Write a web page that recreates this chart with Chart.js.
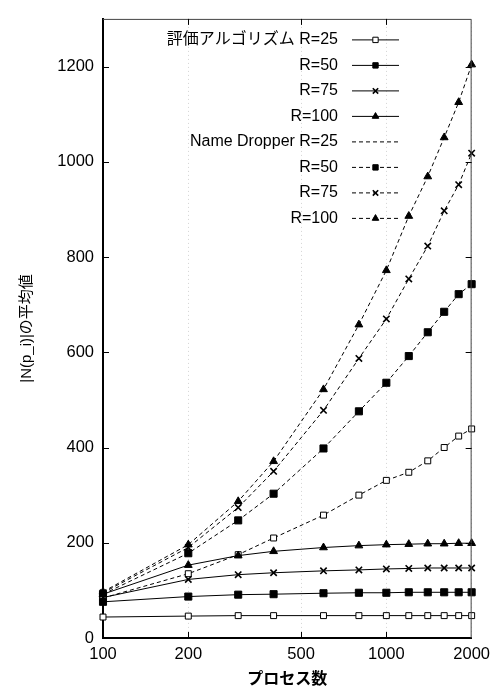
<!DOCTYPE html>
<html>
<head>
<meta charset="utf-8">
<script src="https://cdn.jsdelivr.net/npm/chart.js@4.4.0/dist/chart.umd.min.js"></script>
<style>
    html, body { margin: 0; padding: 0; background: #fff; }
    canvas { display: block; }
</style>
</head>
<body>
<canvas id="chart" width="497" height="691"></canvas>
<script>
// プロセス数 (x) と各系列の |N(p_i)| 平均値
const processes = [100, 200, 300, 400, 600, 800, 1000, 1200, 1400, 1600, 1800, 2000];
const algR25  = [44, 46, 47, 47, 47, 47, 47, 47, 47, 47, 47, 47];
const algR50  = [76, 87, 91, 92, 94, 95, 95, 96, 96, 96, 96, 96];
const algR75  = [85, 123, 133, 137, 141, 143, 145, 146, 147, 147, 147, 147];
const algR100 = [92, 153, 173, 182, 190, 194, 196, 197, 198, 198, 199, 199];
const ndR25   = [84, 135, 175, 210, 258, 300, 331, 348, 372, 400, 424, 439];
const ndR50   = [92, 178, 247, 303, 398, 476, 536, 592, 642, 685, 722, 743];
const ndR75   = [95, 190, 274, 350, 478, 587, 670, 754, 823, 897, 952, 1018];
const ndR100  = [97, 196, 287, 371, 522, 658, 772, 886, 969, 1051, 1125, 1204];

const labels = ['評価アルゴリズム R=25', 'R=50', 'R=75', 'R=100',
                'Name Dropper R=25', 'R=50', 'R=75', 'R=100'];
const xTicks = [100, 200, 500, 1000, 2000];
const yTicks = [0, 200, 400, 600, 800, 1000, 1200];

const FONT = "'Liberation Sans', Arial, 'Noto Sans CJK JP', sans-serif";
const DASH = [4, 3];
const RADIUS = { rect: 5, crossRot: 4.5, triangle: 4.5 };

function makeSet(label, values, dashed, style, filled, legendMarker) {
    return {
        label,
        data: values.map((v, i) => ({ x: processes[i], y: v })),
        borderColor: '#000',
        borderWidth: 1,
        borderDash: dashed ? DASH : [],
        pointStyle: style,
        pointRadius: filled || style !== 'rect' ? RADIUS[style] : 4.2,
        pointBorderWidth: style === 'crossRot' ? 1.6 : 1,
        pointBorderColor: '#000',
        pointBackgroundColor: filled ? '#000' : '#fff',
        legendMarker,
        tension: 0,
        clip: false
    };
}

const datasets = [
    makeSet(labels[0], algR25, false, 'rect', false, true),
    makeSet(labels[1], algR50, false, 'rect', true, true),
    makeSet(labels[2], algR75, false, 'crossRot', false, true),
    makeSet(labels[3], algR100, false, 'triangle', true, true),
    makeSet(labels[4], ndR25, true, 'rect', false, false),
    makeSet(labels[5], ndR50, true, 'rect', true, true),
    makeSet(labels[6], ndR75, true, 'crossRot', false, true),
    makeSet(labels[7], ndR100, true, 'triangle', true, true)
];

// gnuplot風の凡例 (プロット内、右揃えラベル + 線見本)
const innerLegend = {
    id: 'innerLegend',
    afterDatasetsDraw(chart) {
        const ctx = chart.ctx;
        const a = chart.chartArea;
        const textRight = a.left + 235;
        const lineL = a.left + 249, lineR = a.left + 296;
        ctx.save();
        ctx.font = '16px ' + FONT;
        ctx.textAlign = 'right';
        ctx.textBaseline = 'middle';
        chart.data.datasets.forEach((ds, i) => {
            const y = a.top + 21 + i * 25.5;
            ctx.fillStyle = '#000';
            ctx.fillText(ds.label, textRight, y);
            ctx.strokeStyle = '#000';
            ctx.lineWidth = 1;
            ctx.setLineDash(ds.borderDash);
            ctx.beginPath();
            ctx.moveTo(lineL, y);
            ctx.lineTo(lineR, y);
            ctx.stroke();
            ctx.setLineDash([]);
            if (ds.legendMarker) {
                ctx.fillStyle = ds.pointBackgroundColor;
                ctx.lineWidth = ds.pointBorderWidth;
                Chart.helpers.drawPoint(ctx, { pointStyle: ds.pointStyle, radius: 3.8, borderWidth: ds.pointBorderWidth, rotation: 0 }, (lineL + lineR) / 2, y);
            }
        });
        ctx.restore();
    }
};

// 枠の上・右と内向きの目盛り
const frameTicks = {
    id: 'frameTicks',
    afterDraw(chart) {
        const { ctx, chartArea: a, scales: { x, y } } = chart;
        ctx.save();
        ctx.strokeStyle = '#444';
        ctx.lineWidth = 1;
        ctx.beginPath();
        ctx.moveTo(a.left, a.top + 0.5);
        ctx.lineTo(a.right - 0.5, a.top + 0.5);
        ctx.lineTo(a.right - 0.5, a.bottom);
        ctx.stroke();
        ctx.strokeStyle = '#000';
        ctx.beginPath();
        xTicks.slice(1, -1).forEach(v => {
            const px = Math.round(x.getPixelForValue(v)) + 0.5;
            ctx.moveTo(px, a.bottom); ctx.lineTo(px, a.bottom - 6);
            ctx.moveTo(px, a.top); ctx.lineTo(px, a.top + 6);
        });
        yTicks.slice(1).forEach(v => {
            const py = Math.round(y.getPixelForValue(v)) + 0.5;
            ctx.moveTo(a.left, py); ctx.lineTo(a.left + 6, py);
            ctx.moveTo(a.right, py); ctx.lineTo(a.right - 6, py);
        });
        ctx.stroke();
        ctx.restore();
    }
};

new Chart(document.getElementById('chart'), {
    type: 'line',
    data: { datasets },
    options: {
        responsive: false,
        animation: false,
        layout: { padding: { top: 9, right: 24, left: 0, bottom: 0 } },
        scales: {
            x: {
                type: 'logarithmic',
                min: 100,
                max: 2000,
                afterBuildTicks: s => { s.ticks = xTicks.map(v => ({ value: v })); },
                afterFit: s => { s.height = 53; },
                ticks: { callback: v => String(v), color: '#000', padding: 7, maxRotation: 0, font: { family: FONT, size: 16.5 } },
                grid: { drawTicks: false, color: '#d4d4d4', lineWidth: 1 },
                border: { color: '#000', width: 2, dash: [1, 3] },
                title: { display: true, text: 'プロセス数', color: '#000', padding: { top: 0, bottom: 3 }, font: { family: "'Noto Sans CJK JP', sans-serif", size: 16, weight: 'bold' } }
            },
            y: {
                type: 'linear',
                min: 0,
                max: 1300,
                afterBuildTicks: s => { s.ticks = yTicks.map(v => ({ value: v })); },
                afterFit: s => { s.width = 103; },
                ticks: { callback: v => String(v), color: '#000', padding: 9, font: { family: FONT, size: 16.5 } },
                grid: { display: false, drawTicks: false },
                border: { color: '#000', width: 2 },
                title: { display: true, text: '|N(p_i)|の平均値', color: '#000', padding: { top: 18, bottom: 0 }, font: { family: FONT, size: 15 } }
            }
        },
        plugins: {
            legend: { display: false },
            tooltip: { enabled: false }
        }
    },
    plugins: [innerLegend, frameTicks]
});
</script>
</body>
</html>
